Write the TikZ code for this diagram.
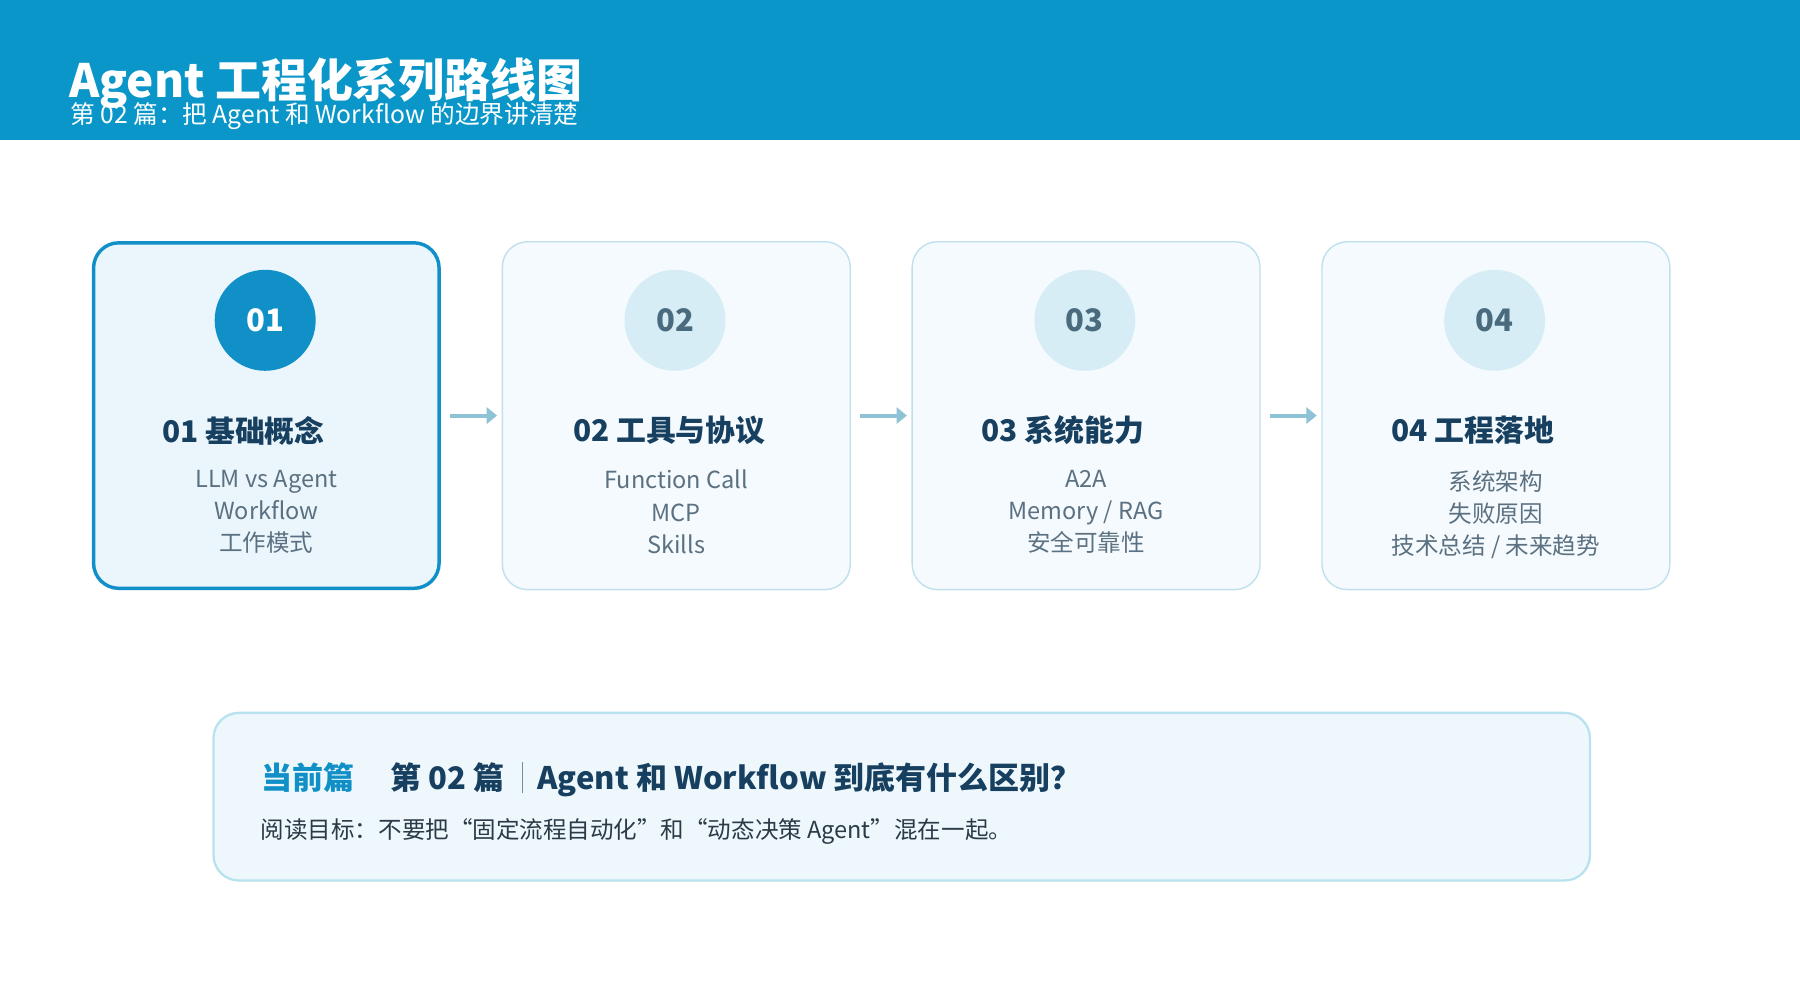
\documentclass[tikz,border=0pt]{standalone}
\usepackage{fontspec}
\setmainfont{Noto Sans CJK SC}
\begin{document}
\begin{tikzpicture}[x=1pt,y=-1pt,
 card/.style={draw=cardb,fill=cardf,line width=1.2pt,rounded corners=22pt,minimum width=303pt,minimum height=303pt,anchor=north west},
 cur/.style={card,draw=blue1,fill=curf,line width=3pt,minimum width=301pt,minimum height=301pt},
 num/.style={circle,minimum size=88pt,fill=circf,text=numc,font=\fontsize{27}{27}\selectfont\bfseries},
 ttl/.style={font=\fontsize{26}{26}\selectfont\bfseries,text=dark},
 itm/.style={font=\fontsize{20.5}{28}\selectfont,text=grayc,align=center},
 arr/.style={draw=arrc,line width=3.5pt,-{Triangle[length=9pt,width=14pt]}}]
\usetikzlibrary{arrows.meta}
\definecolor{hdr}{HTML}{0A96C8}\definecolor{blue1}{HTML}{1190C8}
\definecolor{cardb}{HTML}{BFE0EC}\definecolor{cardf}{HTML}{F4FAFD}\definecolor{curf}{HTML}{EAF6FC}
\definecolor{circf}{HTML}{D6EDF5}\definecolor{numc}{HTML}{4A6B7E}\definecolor{dark}{HTML}{173F5F}
\definecolor{grayc}{HTML}{5B7080}\definecolor{arrc}{HTML}{8EC3D6}
\definecolor{botf}{HTML}{EEF8FC}\definecolor{botb}{HTML}{B8E2EE}\definecolor{txt}{HTML}{2A3A46}
\useasboundingbox (0,0) rectangle (1568,871);
\fill[white] (0,0) rectangle (1568,871);
\fill[hdr] (0,0) rectangle (1568,122);
\node[anchor=base west,text=white,font=\fontsize{40}{40}\selectfont\bfseries,inner sep=0] (title) at (60,85) {Agent 工程化系列路线图};
\node[anchor=base west,text=white,font=\fontsize{21.5}{21.5}\selectfont,inner sep=0] (sub) at (61,108) {第 02 篇：把 Agent 和 Workflow 的边界讲清楚};
\node[cur] (c1) at (80,210) {};
\node[card] (c2) at (437,210) {};
\node[card] (c3) at (794,210) {};
\node[card] (c4) at (1151,210) {};
\node[num,fill=blue1,text=white] (n1) at (231,279) {01};
\node[num] (n2) at (588,279) {02};
\node[num] (n3) at (945,279) {03};
\node[num] (n4) at (1302,279) {04};
\node[ttl] (t1) at (212,375) {01 基础概念};
\node[ttl] (t2) at (583,375) {02 工具与协议};
\node[ttl] (t3) at (926,375) {03 系统能力};
\node[ttl] (t4) at (1283,375) {04 工程落地};
\node[itm,anchor=north] (i1) at (232,406) {LLM vs Agent\\Workflow\\工作模式};
\node[itm,anchor=north] (i2) at (589,406) {Function Call\\MCP\\Skills};
\node[itm,anchor=north] (i3) at (946,406) {A2A\\Memory / RAG\\安全可靠性};
\node[itm,anchor=north] (i4) at (1303,406) {系统架构\\失败原因\\技术总结 / 未来趋势};
\coordinate (a1) at (392,362);\coordinate (b1) at (433,362);
\coordinate (a2) at (749,362);\coordinate (b2) at (790,362);
\coordinate (a3) at (1106,362);\coordinate (b3) at (1147,362);
\draw[arr] (a1)--(b1);\draw[arr] (a2)--(b2);\draw[arr] (a3)--(b3);
\node[draw=botb,fill=botf,line width=2pt,rounded corners=22pt,minimum width=1199pt,minimum height=146pt,anchor=north west] (bot) at (185,620) {};
\node[anchor=base west,inner sep=0,text=blue1,font=\fontsize{27}{27}\selectfont\bfseries] (cur) at (228,688) {当前篇};
\node[anchor=base west,inner sep=0,text=dark,font=\fontsize{27}{27}\selectfont\bfseries] (h1) at (340,688) {第 02 篇};
\draw[dark!60,line width=1pt] (455,664) -- (455,691);
\node[anchor=base west,inner sep=0,text=dark,font=\fontsize{27}{27}\selectfont\bfseries] (h2) at (468,688) {Agent 和 Workflow 到底有什么区别？};
\node[anchor=base west,inner sep=0,text=txt,font=\fontsize{20.5}{20.5}\selectfont] (goal) at (227,730) {阅读目标：不要把“固定流程自动化”和“动态决策 Agent”混在一起。};
\end{tikzpicture}
\end{document}
